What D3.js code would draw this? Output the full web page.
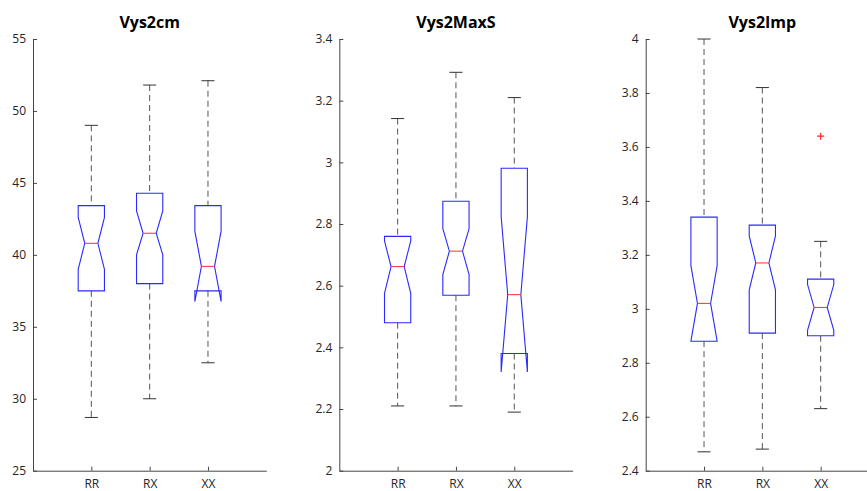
<!DOCTYPE html>
<html>
<head>
<meta charset="utf-8">
<script src="https://cdn.jsdelivr.net/npm/d3@7"></script>
<style>
  body { margin: 0; background: #fff; }
  svg { display: block; }
</style>
</head>
<body>
<svg id="chart" width="867" height="491"></svg>
<script>
// groups on the x axis
var groups = ["RR", "RX", "XX"];

// panel titles
var titles = ["Vys2cm", "Vys2MaxS", "Vys2Imp"];

// y ranges and tick values per panel
var yDomains = [[25, 55], [2, 3.4], [2.4, 4]];
var yTicks = [
  [25, 30, 35, 40, 45, 50, 55],
  [2, 2.2, 2.4, 2.6, 2.8, 3, 3.2, 3.4],
  [2.4, 2.6, 2.8, 3, 3.2, 3.4, 3.6, 3.8, 4]
];

// box statistics (one array per panel, one value per group)
var lowerWhisker = [[28.7, 30.0, 32.5], [2.21, 2.21, 2.19], [2.47, 2.48, 2.63]];
var q1           = [[37.5, 38.0, 37.5], [2.48, 2.569, 2.38], [2.88, 2.91, 2.90]];
var notchLow     = [[39.0, 40.0, 36.75], [2.575, 2.636, 2.32], [2.88, 3.07, 2.92]];
var median       = [[40.8, 41.5, 39.2], [2.662, 2.712, 2.571], [3.02, 3.17, 3.005]];
var notchHigh    = [[42.6, 43.05, 41.65], [2.745, 2.785, 2.824], [3.16, 3.27, 3.09]];
var q3           = [[43.42, 44.28, 43.42], [2.76, 2.874, 2.981], [3.34, 3.31, 3.11]];
var upperWhisker = [[49.0, 51.8, 52.1], [3.142, 3.292, 3.21], [4.0, 3.82, 3.25]];

// outliers: [panel, group, value]
var outliers = [[2, "XX", 3.64]];

var svg = d3.select("#chart");

var panelLeft = [33, 339.3, 645.7];
var panelWidth = 233.3;
var plotTop = 39, plotBottom = 470.7;

titles.forEach(function(title, p) {
  var g = svg.append("g");

  var x = d3.scalePoint()
    .domain(["", "RR", "RX", "XX", " "])
    .range([panelLeft[p], panelLeft[p] + panelWidth]);

  var y = d3.scaleLinear()
    .domain(yDomains[p])
    .range([plotBottom, plotTop]);

  // axes
  var yAxis = d3.axisLeft(y)
    .tickValues(yTicks[p])
    .tickFormat(d3.format("~g"))
    .tickSizeInner(-4)
    .tickSizeOuter(0)
    .tickPadding(7);

  var xAxis = d3.axisBottom(x)
    .tickValues(groups)
    .tickSizeInner(-4)
    .tickSizeOuter(0)
    .tickPadding(9);

  var ya = g.append("g")
    .attr("transform", "translate(" + panelLeft[p] + ",0)")
    .call(yAxis);
  var xa = g.append("g")
    .attr("transform", "translate(0," + plotBottom + ")")
    .call(xAxis);

  [ya, xa].forEach(function(a) {
    a.selectAll("path, line").attr("stroke", "#444");
    a.selectAll("text")
      .attr("fill", "#262626")
      .style("font-family", "'Open Sans', 'Noto Sans', sans-serif")
      .style("font-size", "12px");
  });

  // title
  g.append("text")
    .attr("x", panelLeft[p] + panelWidth / 2)
    .attr("y", 28)
    .attr("text-anchor", "middle")
    .style("font-family", "'Open Sans', 'Noto Sans', sans-serif")
    .style("font-weight", "bold")
    .style("font-size", "16px")
    .attr("fill", "#000")
    .text(title);

  var step = x.step();
  var hw = step * 0.225;       // half box width
  var nw = hw * 0.5;           // half notch width
  var cw = hw * 0.5;           // half cap width

  groups.forEach(function(grp, i) {
    var cx = x(grp);

    // whiskers (dashed)
    g.append("line")
      .attr("x1", cx).attr("x2", cx)
      .attr("y1", y(upperWhisker[p][i])).attr("y2", y(q3[p][i]))
      .attr("stroke", "#555").attr("stroke-dasharray", "6,4");
    g.append("line")
      .attr("x1", cx).attr("x2", cx)
      .attr("y1", y(q1[p][i])).attr("y2", y(lowerWhisker[p][i]))
      .attr("stroke", "#555").attr("stroke-dasharray", "6,4");

    // caps
    [upperWhisker[p][i], lowerWhisker[p][i]].forEach(function(v) {
      g.append("line")
        .attr("x1", cx - cw).attr("x2", cx + cw)
        .attr("y1", y(v)).attr("y2", y(v))
        .attr("stroke", "#333");
    });

    // notched box outline
    var pts = [
      [cx - hw, q1[p][i]],
      [cx - hw, notchLow[p][i]],
      [cx - nw, median[p][i]],
      [cx - hw, notchHigh[p][i]],
      [cx - hw, q3[p][i]],
      [cx + hw, q3[p][i]],
      [cx + hw, notchHigh[p][i]],
      [cx + nw, median[p][i]],
      [cx + hw, notchLow[p][i]],
      [cx + hw, q1[p][i]]
    ];
    g.append("path")
      .attr("d", d3.line().x(function(d) { return d[0]; }).y(function(d) { return y(d[1]); })(pts) + "Z")
      .attr("fill", "none")
      .attr("stroke", "#2a2aff")
      .attr("stroke-width", 1.1);

    // median
    g.append("line")
      .attr("x1", cx - nw).attr("x2", cx + nw)
      .attr("y1", y(median[p][i])).attr("y2", y(median[p][i]))
      .attr("stroke", "#ff4040")
      .attr("stroke-width", 1.1);
  });

  // outliers
  outliers.filter(function(o) { return o[0] === p; }).forEach(function(o) {
    var ox = x(o[1]), oy = y(o[2]);
    g.append("path")
      .attr("d", "M" + (ox - 3.5) + "," + oy + "H" + (ox + 3.5) + "M" + ox + "," + (oy - 3.5) + "V" + (oy + 3.5))
      .attr("stroke", "#ff2020")
      .attr("stroke-width", 1.1);
  });
});
</script>
</body>
</html>
